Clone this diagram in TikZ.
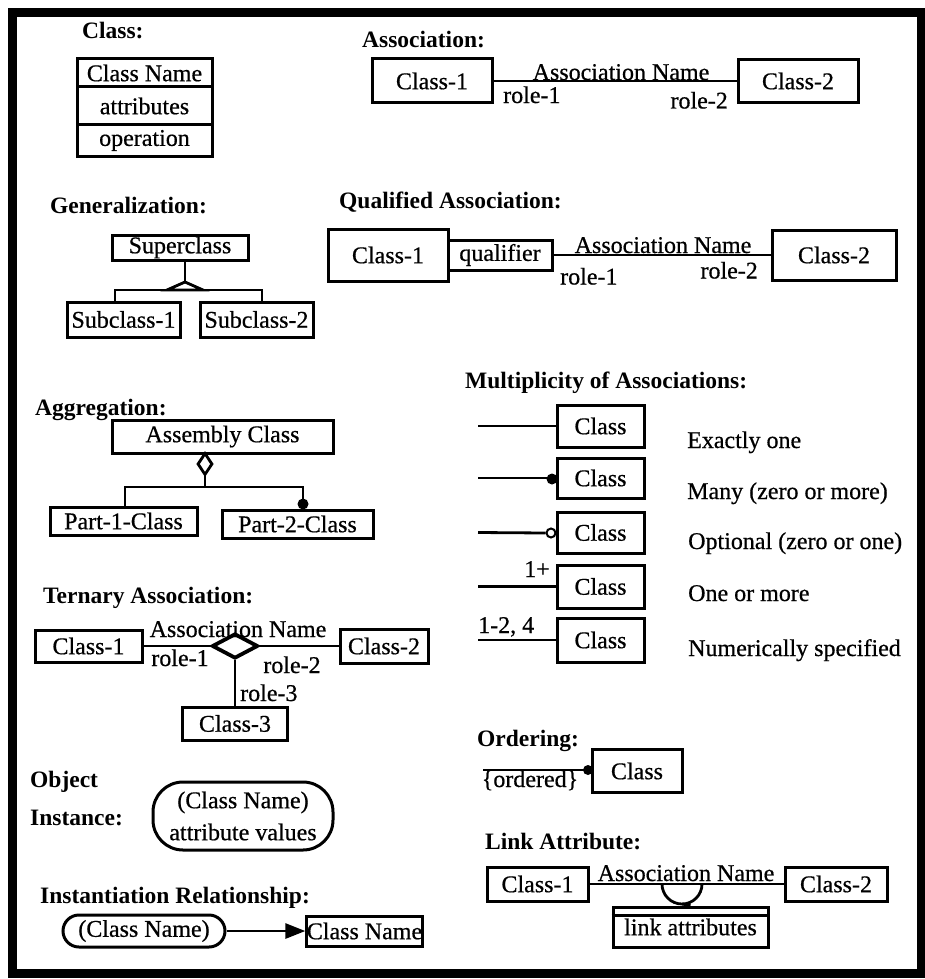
\documentclass[tikz,border=0pt]{standalone}
\usepackage{fontspec}
\setmainfont{Liberation Serif}
\newfontfamily\lblfont[FakeBold=0.6]{Liberation Serif}
\usetikzlibrary{shapes.geometric,arrows.meta}
\begin{document}
\begin{tikzpicture}[x=1pt,y=-1pt,
  lbl/.style={font=\lblfont\fontsize{24}{28}\selectfont, inner sep=0pt},
  hdr/.style={font=\fontsize{23.5}{28}\selectfont\bfseries, inner sep=0pt, anchor=base west},
  box/.style={draw, line width=3pt, inner sep=0pt, font=\lblfont\fontsize{24}{28}\selectfont},
  conn/.style={line width=2.8pt},
  dotf/.style={circle, fill, inner sep=0pt, minimum size=11pt},
]
\useasboundingbox (0,0) rectangle (925,979);
\draw[line width=9pt] (12,12.5) rectangle (921,973);

% ---------- Class ----------
\node[hdr] (hClass) at (82,38.6) {Class:};
\node[box, minimum width=135pt, minimum height=28pt] (cn) at (144.5,73) {Class Name};
\node[box, minimum width=135pt, minimum height=38pt] (ca) at (144.5,106) {attributes};
\node[box, minimum width=135pt, minimum height=31pt] (co) at (144.5,140.5) {operation};

% ---------- Association ----------
\node[hdr] (hAssoc) at (362,47.6) {Association:};
\node[box, minimum width=120pt, minimum height=44pt] (a1) at (432,81) {Class-1};
\node[box, minimum width=120pt, minimum height=43pt] (a2) at (798,81) {Class-2};
\draw[conn] (a1.east) -- (a2.west);
\node[lbl, anchor=base] (aname) at (621,80) {Association Name};
\node[lbl, anchor=base west] (ar1) at (503,103) {role-1};
\node[lbl, anchor=base east] (ar2) at (728,108.5) {role-2};

% ---------- Generalization ----------
\node[hdr] (hGen) at (50,213.6) {Generalization:};
\node[box, minimum width=136pt, minimum height=25pt] (sup) at (180,247.5) {Superclass};
\node[box, minimum width=113pt, minimum height=35pt] (sub1) at (123.5,319.5) {Subclass-1};
\node[box, minimum width=113pt, minimum height=35pt] (sub2) at (256.5,319.5) {Subclass-2};
\coordinate (gApex) at (185,282);
\coordinate (gL) at (115,290);
\coordinate (gR) at (262,290);
\draw[conn] (sup.south -| gApex) -- (gApex);
\draw[conn, line join=miter] (gApex) -- (167,290) -- (203,290) -- cycle;
\draw[conn] (sub1.north -| gL) -- (gL) -- (gR) -- (sub2.north -| gR);

% ---------- Qualified Association ----------
\node[hdr] (hQual) at (339,208.6) {Qualified Association:};
\node[box, minimum width=120pt, minimum height=52pt] (q1) at (388,255) {Class-1};
\node[box, minimum width=104pt, minimum height=30pt] (qq) at (500,255) {qualifier};
\node[box, minimum width=124pt, minimum height=50pt] (q2) at (834,255) {Class-2};
\draw[conn] (qq.east) -- (q2.west);
\node[lbl, anchor=base] (qname) at (663,253) {Association Name};
\node[lbl, anchor=base west] (qr1) at (560,284.5) {role-1};
\node[lbl, anchor=base east] (qr2) at (758,278.5) {role-2};

% ---------- Aggregation ----------
\node[hdr] (hAgg) at (35,415.6) {Aggregation:};
\node[box, minimum width=221pt, minimum height=33pt] (asm) at (222.5,436.5) {Assembly Class};
\node[draw, diamond, line width=2.8pt, fill=white, inner sep=0pt,
      minimum width=15pt, minimum height=22pt] (agd) at (205,464) {};
\node[box, minimum width=147pt, minimum height=28pt] (p1) at (123.5,521) {Part-1-Class};
\node[box, minimum width=151pt, minimum height=28pt] (p2) at (297.5,524) {Part-2-Class};
\coordinate (aj) at (205,487);
\coordinate (aL) at (125,487);
\coordinate (aR) at (303,487);
\node[dotf] (adot) at (303,504) {};
\draw[conn] (agd.south) -- (aj);
\draw[conn] (p1.north -| aL) -- (aL) -- (aR) -- (adot.center);

% ---------- Multiplicity ----------
\node[hdr] (hMult) at (465,388.6) {Multiplicity of Associations:};
\node[box, minimum width=87pt, minimum height=42pt] (mb1) at (600.5,426) {Class};
\node[box, minimum width=87pt, minimum height=40pt] (mb2) at (600.5,478) {Class};
\node[box, minimum width=87pt, minimum height=41pt] (mb3) at (600.5,532.5) {Class};
\node[box, minimum width=87pt, minimum height=43pt] (mb4) at (600.5,586.5) {Class};
\node[box, minimum width=87pt, minimum height=44pt] (mb5) at (600.5,640) {Class};
\coordinate (ms1) at (478,426);
\coordinate (ms2) at (478,478);
\coordinate (ms3) at (478,532.5);
\coordinate (ms4) at (478,586.5);
\coordinate (ms5) at (478,640);
\draw[conn] (ms1) -- (mb1.west);
\node[dotf] (mdot) at (552,479) {};
\draw[conn] (ms2) -- (mb2.west);
\node[circle, draw, line width=2pt, fill=white, inner sep=0pt, minimum size=9pt] (mcirc) at (551,533) {};
\draw[conn] (ms3) -- (mcirc.west);
\draw[conn] (ms4) -- (mb4.west);
\draw[conn] (ms5) -- (mb5.west);
\node[lbl, anchor=base east] (m1p) at (550,577) {1+};
\node[lbl, anchor=base west] (m124) at (478,633) {1-2, 4};
\node[lbl, anchor=base west] (md1) at (687,448) {Exactly one};
\node[lbl, anchor=base west] (md2) at (687,499) {Many (zero or more)};
\node[lbl, anchor=base west] (md3) at (688,549) {Optional (zero or one)};
\node[lbl, anchor=base west] (md4) at (688,601) {One or more};
\node[lbl, anchor=base west] (md5) at (688,656) {Numerically specified};

% ---------- Ternary Association ----------
\node[hdr] (hTern) at (43,603.6) {Ternary Association:};
\node[box, minimum width=107pt, minimum height=32pt] (t1) at (88.5,646) {Class-1};
\node[draw, diamond, line width=3.8pt, inner sep=0pt,
      minimum width=46pt, minimum height=25pt] (td) at (235,646) {};
\node[box, minimum width=88pt, minimum height=34pt] (t2) at (384,646) {Class-2};
\node[box, minimum width=105pt, minimum height=33pt] (t3) at (235,723.5) {Class-3};
\draw[conn] (t1.east) -- (td.west);
\draw[conn] (td.east) -- (t2.west);
\draw[conn] (td.south) -- (t3.north);
\node[lbl, anchor=base] (tname) at (238,637) {Association Name};
\node[lbl, anchor=base] (tr1) at (180,666) {role-1};
\node[lbl, anchor=base] (tr2) at (292,673) {role-2};
\node[lbl, anchor=base west] (tr3) at (240,701) {role-3};

% ---------- Object Instance ----------
\node[hdr] (hObj1) at (30,787) {Object};
\node[hdr] (hObj2) at (30,825) {Instance:};
\node[draw, line width=3pt, rounded corners=30pt, minimum width=180pt, minimum height=68pt,
      inner sep=0pt, align=center, font=\lblfont\fontsize{24}{32}\selectfont] (oi) at (243,816)
      {(Class Name)\\attribute values};

% ---------- Instantiation Relationship ----------
\node[hdr] (hInst) at (40,903) {Instantiation Relationship:};
\node[draw, line width=3pt, rounded corners=16pt, minimum width=162pt, minimum height=32pt,
      inner sep=0pt, font=\lblfont\fontsize{24}{28}\selectfont] (ci) at (144,931) {(Class Name)};
\node[box, minimum width=115pt, minimum height=30pt] (cb) at (364.5,931) {Class Name};
\draw[conn, -{Triangle[length=20pt,width=15pt]}] (ci.east) -- (cb.west);

% ---------- Ordering ----------
\node[hdr] (hOrd) at (477,746.5) {Ordering:};
\node[box, minimum width=90pt, minimum height=43pt] (ob) at (637,771) {Class};
\coordinate (os) at (483,770);
\draw[conn] (os) -- (ob.west |- os);
\node[dotf, minimum size=10pt] (odot) at (588,770) {};
\node[lbl, anchor=base] (oord) at (530,787) {\{ordered\}};

% ---------- Link Attribute ----------
\node[hdr] (hLink) at (485,849) {Link Attribute:};
\node[box, minimum width=101pt, minimum height=34pt] (l1) at (537.5,884) {Class-1};
\node[box, minimum width=102pt, minimum height=34pt] (l2) at (836,884) {Class-2};
\draw[conn] (l1.east) -- (l2.west);
\node[lbl, anchor=base] (lname) at (686,881) {Association Name};
\node[box, minimum width=155pt, minimum height=40pt] (la) at (690.5,927) {\raisebox{-5pt}{link attributes}};
\draw[line width=2.6pt] ([yshift=-10pt]la.north west) -- ([yshift=-10pt]la.north east);
\coordinate (lc) at (662,884);
\draw[conn] (lc) arc[start angle=180, end angle=360, radius=20pt] coordinate (lce);
\coordinate (lbot) at (682,904);
\draw[conn] (lbot) -- (la.north);
\end{tikzpicture}
\end{document}
